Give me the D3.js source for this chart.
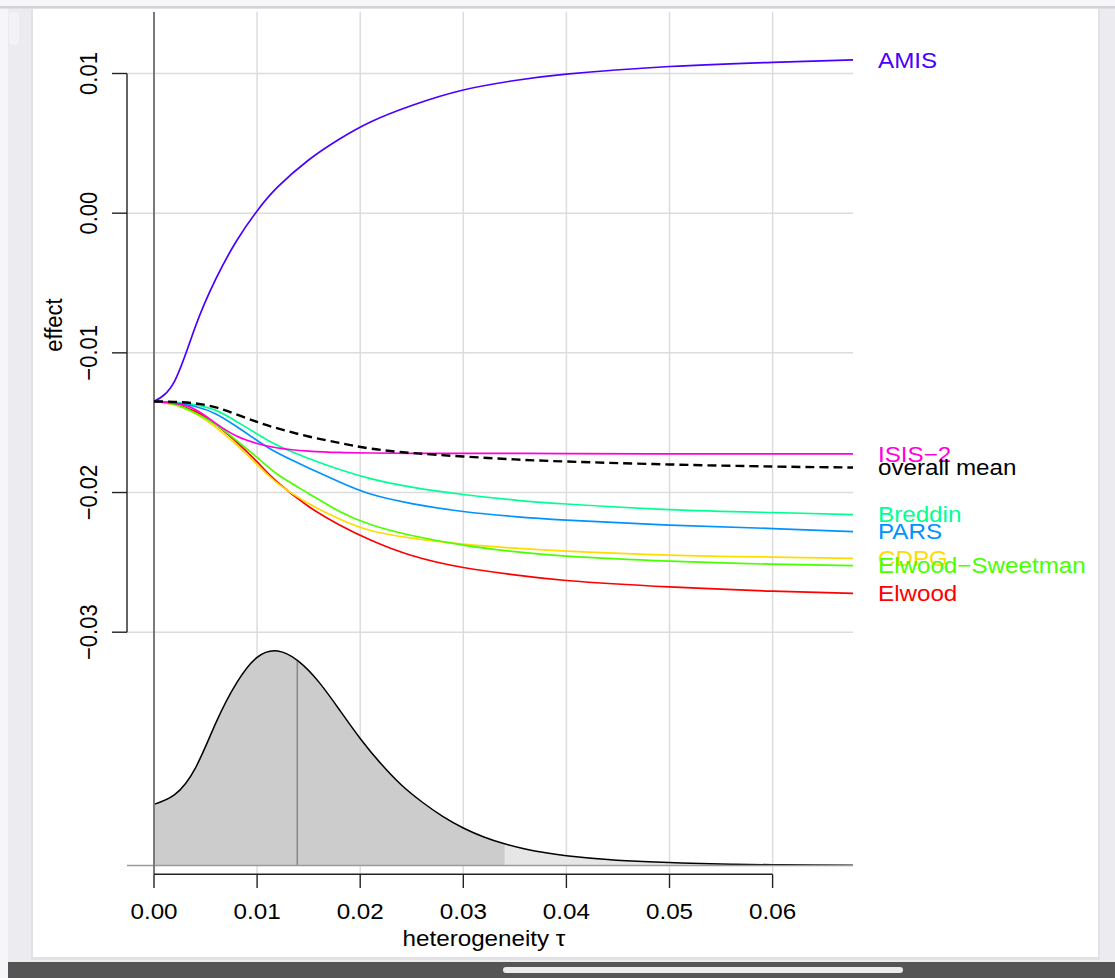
<!DOCTYPE html>
<html>
<head>
<meta charset="utf-8">
<script src="https://cdn.jsdelivr.net/npm/d3@7"></script>
<style>
  html, body { margin: 0; padding: 0; overflow: hidden; background: #fff; }
  svg text { font-family: "Liberation Sans", Arial, Helvetica, sans-serif; }
</style>
<title>effect vs heterogeneity</title>
</head>
<body>
<svg id="chart" width="1115" height="978"></svg>
<script>
// ---- data ----
var tauGrid = [0, 0.002, 0.004, 0.006, 0.008, 0.010, 0.012, 0.015, 0.018, 0.021,
               0.025, 0.030, 0.035, 0.040, 0.050, 0.060, 0.0678];

var seriesNames = ["Elwood", "CDPG", "Elwood\u2212Sweetman", "Breddin", "PARS", "AMIS", "ISIS\u22122"];
var seriesColors = ["#FF0000", "#FFDB00", "#49FF00", "#00FF92", "#0092FF", "#4900FF", "#FF00DB"];

var elwood   = [-0.01348, -0.01369, -0.01419, -0.01513, -0.01638, -0.01781, -0.01928, -0.02100, -0.02232,
                -0.02340, -0.02451, -0.02537, -0.02590, -0.02630, -0.02676, -0.02706, -0.02722];
var cdpg     = [-0.01348, -0.01373, -0.01434, -0.01534, -0.01659, -0.01799, -0.01935, -0.02079, -0.02190,
                -0.02272, -0.02326, -0.02369, -0.02398, -0.02419, -0.02448, -0.02462, -0.02471];
var sweetman = [-0.01348, -0.01369, -0.01430, -0.01513, -0.01627, -0.01749, -0.01871, -0.02007, -0.02136,
                -0.02229, -0.02308, -0.02376, -0.02423, -0.02455, -0.02491, -0.02513, -0.02523];
var breddin  = [-0.01348, -0.01355, -0.01373, -0.01412, -0.01491, -0.01581, -0.01663, -0.01756, -0.01835,
                -0.01900, -0.01961, -0.02014, -0.02054, -0.02082, -0.02122, -0.02143, -0.02158];
var pars     = [-0.01348, -0.01358, -0.01384, -0.01437, -0.01527, -0.01627, -0.01717, -0.01824, -0.01925,
                -0.02011, -0.02079, -0.02136, -0.02172, -0.02197, -0.02233, -0.02258, -0.02280];
var amis     = [-0.01348, -0.01202, -0.00815, -0.00471, -0.00199, 0.00016, 0.00188, 0.00381, 0.00531,
                0.00653, 0.00771, 0.00882, 0.00950, 0.00996, 0.01050, 0.01080, 0.01097];
var isis2    = [-0.01348, -0.01362, -0.01405, -0.01505, -0.01595, -0.01649, -0.01681, -0.01703, -0.01713,
                -0.01717, -0.01720, -0.01720, -0.01720, -0.01722, -0.01723, -0.01723, -0.01723];
var overallMean = [-0.01348, -0.01351, -0.01362, -0.01390, -0.01441, -0.01495, -0.01541, -0.01599, -0.01645,
                   -0.01685, -0.01717, -0.01742, -0.01763, -0.01778, -0.01799, -0.01814, -0.01821];
var seriesValues = [elwood, cdpg, sweetman, breddin, pars, amis, isis2];

// posterior density of tau (relative height)
var densTau = [0, 0.002, 0.004, 0.006, 0.008, 0.010, 0.012, 0.014, 0.016, 0.018, 0.020, 0.022, 0.024,
               0.026, 0.028, 0.030, 0.032, 0.034, 0.036, 0.038, 0.040, 0.044, 0.048, 0.052, 0.056,
               0.060, 0.064, 0.0678];
var densVal = [0.285, 0.330, 0.453, 0.665, 0.850, 0.970, 1.0, 0.953, 0.855, 0.725, 0.592, 0.475, 0.375,
               0.296, 0.229, 0.175, 0.133, 0.101, 0.077, 0.059, 0.046, 0.028, 0.017, 0.010, 0.006,
               0.0035, 0.002, 0.0012];
var tauMedian = 0.0139, densAtMedian = 0.952;
var tauUpper = 0.034;

var xTicks = [0, 0.01, 0.02, 0.03, 0.04, 0.05, 0.06];
var yTicks = [-0.03, -0.02, -0.01, 0.00, 0.01];

// ---- setup ----
var svg = d3.select("#chart");
var FS = 22, SX = 1.1;   // font size, horizontal stretch of the screenshot
var smooth = d3.curveNatural;

// screenshot frame
svg.append("rect").attr("x", 0).attr("y", 0).attr("width", 1115).attr("height", 978).attr("fill", "#f6f6f8");
svg.append("rect").attr("x", 8).attr("y", 8).attr("width", 1107).attr("height", 970).attr("fill", "#ebebf0");
svg.append("rect").attr("x", 0).attr("y", 6).attr("width", 1115).attr("height", 2.5).attr("fill", "#d2d2d6");
svg.append("rect").attr("x", 9).attr("y", 12).attr("width", 10).attr("height", 33).attr("rx", 4).attr("fill", "#f3f3f7");
svg.append("rect").attr("x", 31).attr("y", 8).attr("width", 1069).attr("height", 952).attr("fill", "#e2e2e6");
svg.append("rect").attr("x", 33).attr("y", 9).attr("width", 1065).attr("height", 948).attr("fill", "#ffffff");
svg.append("rect").attr("x", 8).attr("y", 962).attr("width", 1107).attr("height", 16).attr("fill", "#555555");
svg.append("rect").attr("x", 503).attr("y", 967).attr("width", 400).attr("height", 6).attr("rx", 3).attr("fill", "#ececec");

var x = d3.scaleLinear().domain([0, 0.06]).range([154, 772.6]);
var y = d3.scaleLinear().domain([-0.03, 0.01]).range([632.2, 73.5]);
var yd = d3.scaleLinear().domain([0, 1]).range([865.5, 651]);
var xMax = tauGrid[tauGrid.length - 1];

// grid
var grid = svg.append("g").attr("stroke", "#dcdcdc").attr("stroke-width", 1.5);
grid.selectAll(".gy").data(yTicks).enter().append("line")
  .attr("x1", 127).attr("x2", x(xMax))
  .attr("y1", function (d) { return y(d); }).attr("y2", function (d) { return y(d); });
grid.selectAll(".gx").data(xTicks.slice(1)).enter().append("line")
  .attr("x1", function (d) { return x(d); }).attr("x2", function (d) { return x(d); })
  .attr("y1", 12).attr("y2", 874);

// density
var dens = densTau.map(function (t, i) { return { t: t, v: densVal[i] }; });
var area = d3.area().x(function (d) { return x(d.t); }).y0(yd(0)).y1(function (d) { return yd(d.v); })
  .curve(smooth);
var line = d3.line().x(function (d) { return x(d.t); }).y(function (d) { return yd(d.v); })
  .curve(smooth);

svg.append("clipPath").attr("id", "cl-in").append("rect")
  .attr("x", x(0)).attr("y", 0).attr("width", x(tauUpper) - x(0)).attr("height", 978);

svg.append("path").datum(dens).attr("d", area).attr("fill", "#e6e6e6");
svg.append("path").datum(dens).attr("d", area).attr("fill", "#cccccc").attr("clip-path", "url(#cl-in)");
svg.append("line").attr("x1", x(tauMedian)).attr("x2", x(tauMedian))
  .attr("y1", yd(0)).attr("y2", yd(densAtMedian)).attr("stroke", "#8a8a8a").attr("stroke-width", 1.6);
svg.append("path").datum(dens).attr("d", line).attr("fill", "none").attr("stroke", "#000").attr("stroke-width", 1.5);

// baseline and tau = 0 line
svg.append("line").attr("x1", 127).attr("x2", x(xMax)).attr("y1", 865.5).attr("y2", 865.5)
  .attr("stroke", "#9a9a9a").attr("stroke-width", 1.5);
svg.append("line").attr("x1", x(0)).attr("x2", x(0)).attr("y1", 12).attr("y2", 874)
  .attr("stroke", "#7a7a7a").attr("stroke-width", 2);

// effect curves
var effLine = d3.line().x(function (d, i) { return x(tauGrid[i]); }).y(function (d) { return y(d); })
  .curve(smooth);

svg.selectAll(".series").data(seriesValues).enter().append("path")
  .attr("d", effLine).attr("fill", "none")
  .attr("stroke", function (d, i) { return seriesColors[i]; })
  .attr("stroke-width", 1.7);

svg.append("path").datum(overallMean).attr("d", effLine).attr("fill", "none")
  .attr("stroke", "#000").attr("stroke-width", 2.4).attr("stroke-dasharray", "9,5");

// labels at right end (they overlap in the original too)
var labels = seriesNames.map(function (n, i) {
  return { name: n, color: seriesColors[i], v: seriesValues[i][seriesValues[i].length - 1] };
});
labels.push({ name: "overall mean", color: "#000", v: overallMean[overallMean.length - 1] });

svg.selectAll(".lab").data(labels).enter().append("text")
  .attr("transform", function (d) {
    return "translate(878," + (y(d.v) + FS * 0.35) + ") scale(" + SX + ",1)";
  })
  .attr("font-size", FS).attr("fill", function (d) { return d.color; })
  .text(function (d) { return d.name; });

// y axis
var yAx = svg.append("g").attr("stroke", "#222").attr("stroke-width", 1.4).attr("fill", "none");
yAx.append("line").attr("x1", 127).attr("x2", 127).attr("y1", y(0.01)).attr("y2", y(-0.03));
yAx.selectAll(".t").data(yTicks).enter().append("line")
  .attr("x1", 112).attr("x2", 127)
  .attr("y1", function (d) { return y(d); }).attr("y2", function (d) { return y(d); });
svg.selectAll(".yl").data(yTicks).enter().append("text")
  .attr("transform", function (d) { return "translate(96.7," + y(d) + ") scale(" + SX + ",1) rotate(-90)"; })
  .attr("text-anchor", "middle").attr("font-size", FS).attr("fill", "#000")
  .text(function (d) { return d3.format(".2f")(d).replace("-", "\u2212"); });
svg.append("text")
  .attr("transform", "translate(61.5,325) scale(" + SX + ",1) rotate(-90)")
  .attr("text-anchor", "middle").attr("font-size", FS).attr("fill", "#000").text("effect");

// x axis
var xAx = svg.append("g").attr("stroke", "#222").attr("stroke-width", 1.4).attr("fill", "none");
xAx.append("line").attr("x1", x(0)).attr("x2", x(0.06)).attr("y1", 874.3).attr("y2", 874.3);
xAx.selectAll(".t").data(xTicks).enter().append("line")
  .attr("x1", function (d) { return x(d); }).attr("x2", function (d) { return x(d); })
  .attr("y1", 874.3).attr("y2", 888);
svg.selectAll(".xl").data(xTicks).enter().append("text")
  .attr("transform", function (d) { return "translate(" + x(d) + ",919) scale(" + SX + ",1)"; })
  .attr("text-anchor", "middle").attr("font-size", FS).attr("fill", "#000")
  .text(function (d) { return d3.format(".2f")(d); });
svg.append("text")
  .attr("transform", "translate(484,946) scale(" + SX + ",1)")
  .attr("text-anchor", "middle").attr("font-size", FS).attr("fill", "#000")
  .text("heterogeneity \u03c4");
</script>
</body>
</html>
